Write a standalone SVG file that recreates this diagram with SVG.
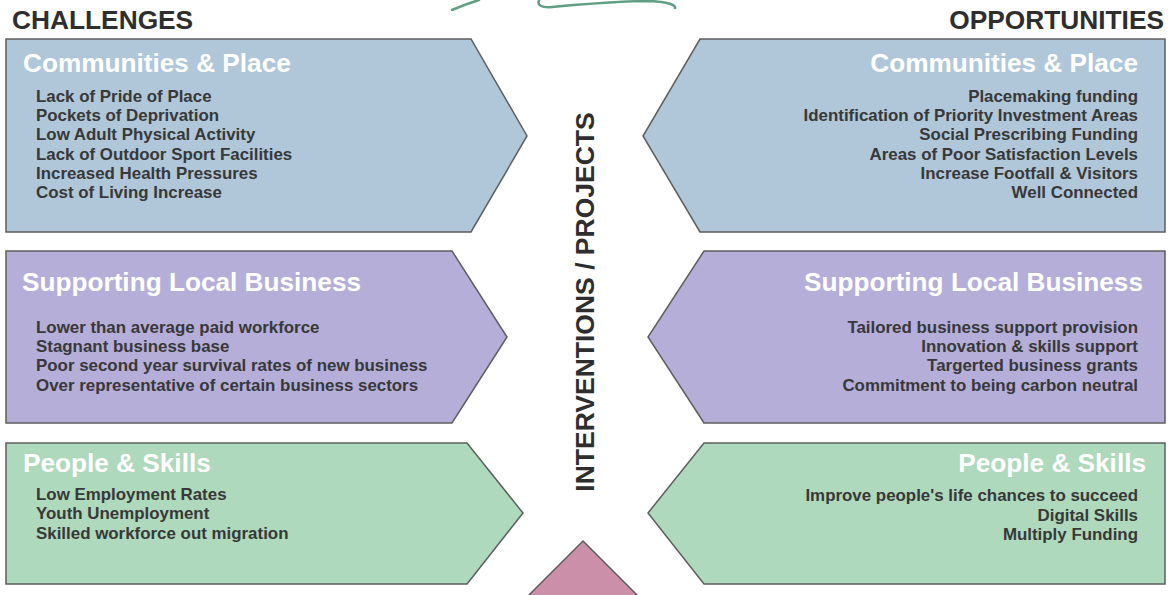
<svg xmlns="http://www.w3.org/2000/svg" width="1170" height="595" viewBox="0 0 1170 595">
<style>
.box{stroke:#5e5e5e;stroke-width:1.5;stroke-linejoin:miter}
.blue{fill:#afc7d9}
.purple{fill:#b4aed9}
.green{fill:#aed9bc}
.pink{fill:#cc8faa}
.hdr{font-family:"Liberation Sans",Arial,sans-serif;font-weight:bold;font-size:26.3px;fill:#2e2e2e}
.ttl{font-family:"Liberation Sans",Arial,sans-serif;font-weight:bold;font-size:26.2px;fill:#ffffff}
.itm{font-family:"Liberation Sans",Arial,sans-serif;font-weight:bold;font-size:16.9px;fill:#383838}
.r{text-anchor:end}
.logo{fill:none;stroke:#5f9f83;stroke-width:2.5;stroke-linecap:round}
</style>
<rect width="1170" height="595" fill="#ffffff"/>
<g id="logo">
<path class="logo" d="M452,10 Q466,4 479,0"/>
<path class="logo" d="M539,0 C537,5 541,8 552,7 C585,4 625,1 650,1 C668,2 676,5 675,8"/>
</g>
<text class="hdr" x="12" y="29">CHALLENGES</text>
<text class="hdr r" x="1164" y="29">OPPORTUNITIES</text>
<g id="challenge-communities">
<polygon class="box blue" points="6,39 471,39 527,136 471,232 6,232"/>
<text class="ttl" x="23" y="72">Communities &amp; Place</text>
<text class="itm" x="36" y="102">Lack of Pride of Place</text>
<text class="itm" x="36" y="121">Pockets of Deprivation</text>
<text class="itm" x="36" y="140">Low Adult Physical Activity</text>
<text class="itm" x="36" y="160">Lack of Outdoor Sport Facilities</text>
<text class="itm" x="36" y="179">Increased Health Pressures</text>
<text class="itm" x="36" y="198">Cost of Living Increase</text>
</g>
<g id="opportunity-communities">
<polygon class="box blue" points="1165,39 700,39 643,136 700,232 1165,232"/>
<text class="ttl r" x="1138" y="72">Communities &amp; Place</text>
<text class="itm r" x="1138" y="102">Placemaking funding</text>
<text class="itm r" x="1138" y="121">Identification of Priority Investment Areas</text>
<text class="itm r" x="1138" y="140">Social Prescribing Funding</text>
<text class="itm r" x="1138" y="160">Areas of Poor Satisfaction Levels</text>
<text class="itm r" x="1138" y="179">Increase Footfall &amp; Visitors</text>
<text class="itm r" x="1138" y="198">Well Connected</text>
</g>
<g id="challenge-business">
<polygon class="box purple" points="6,251 452,251 507,337 452,423 6,423"/>
<text class="ttl" x="22" y="291">Supporting Local Business</text>
<text class="itm" x="36" y="333">Lower than average paid workforce</text>
<text class="itm" x="36" y="352">Stagnant business base</text>
<text class="itm" x="36" y="371">Poor second year survival rates of new business</text>
<text class="itm" x="36" y="391">Over representative of certain business sectors</text>
</g>
<g id="opportunity-business">
<polygon class="box purple" points="1165,251 704,251 648,337 704,423 1165,423"/>
<text class="ttl r" x="1143" y="291">Supporting Local Business</text>
<text class="itm r" x="1138" y="333">Tailored business support provision</text>
<text class="itm r" x="1138" y="352">Innovation &amp; skills support</text>
<text class="itm r" x="1138" y="371">Targerted business grants</text>
<text class="itm r" x="1138" y="391">Commitment to being carbon neutral</text>
</g>
<g id="challenge-people">
<polygon class="box green" points="6,443 467,443 523,513 467,584 6,584"/>
<text class="ttl" x="23" y="472">People &amp; Skills</text>
<text class="itm" x="36" y="500">Low Employment Rates</text>
<text class="itm" x="36" y="519">Youth Unemployment</text>
<text class="itm" x="36" y="539">Skilled workforce out migration</text>
</g>
<g id="opportunity-people">
<polygon class="box green" points="1165,443 704,443 648,513 704,584 1165,584"/>
<text class="ttl r" x="1146" y="472">People &amp; Skills</text>
<text class="itm r" x="1138" y="501">Improve people's life chances to succeed</text>
<text class="itm r" x="1138" y="521">Digital Skills</text>
<text class="itm r" x="1138" y="540">Multiply Funding</text>
</g>
<g id="interventions">
<text class="hdr" text-anchor="middle" transform="translate(594,302) rotate(-90)" style="font-size:26.5px">INTERVENTIONS / PROJECTS</text>
</g>
<g id="outcome">
<polygon class="box pink" points="583,541 640,598 526,598"/>
</g>
<g id="connectors"></g>
</svg>
